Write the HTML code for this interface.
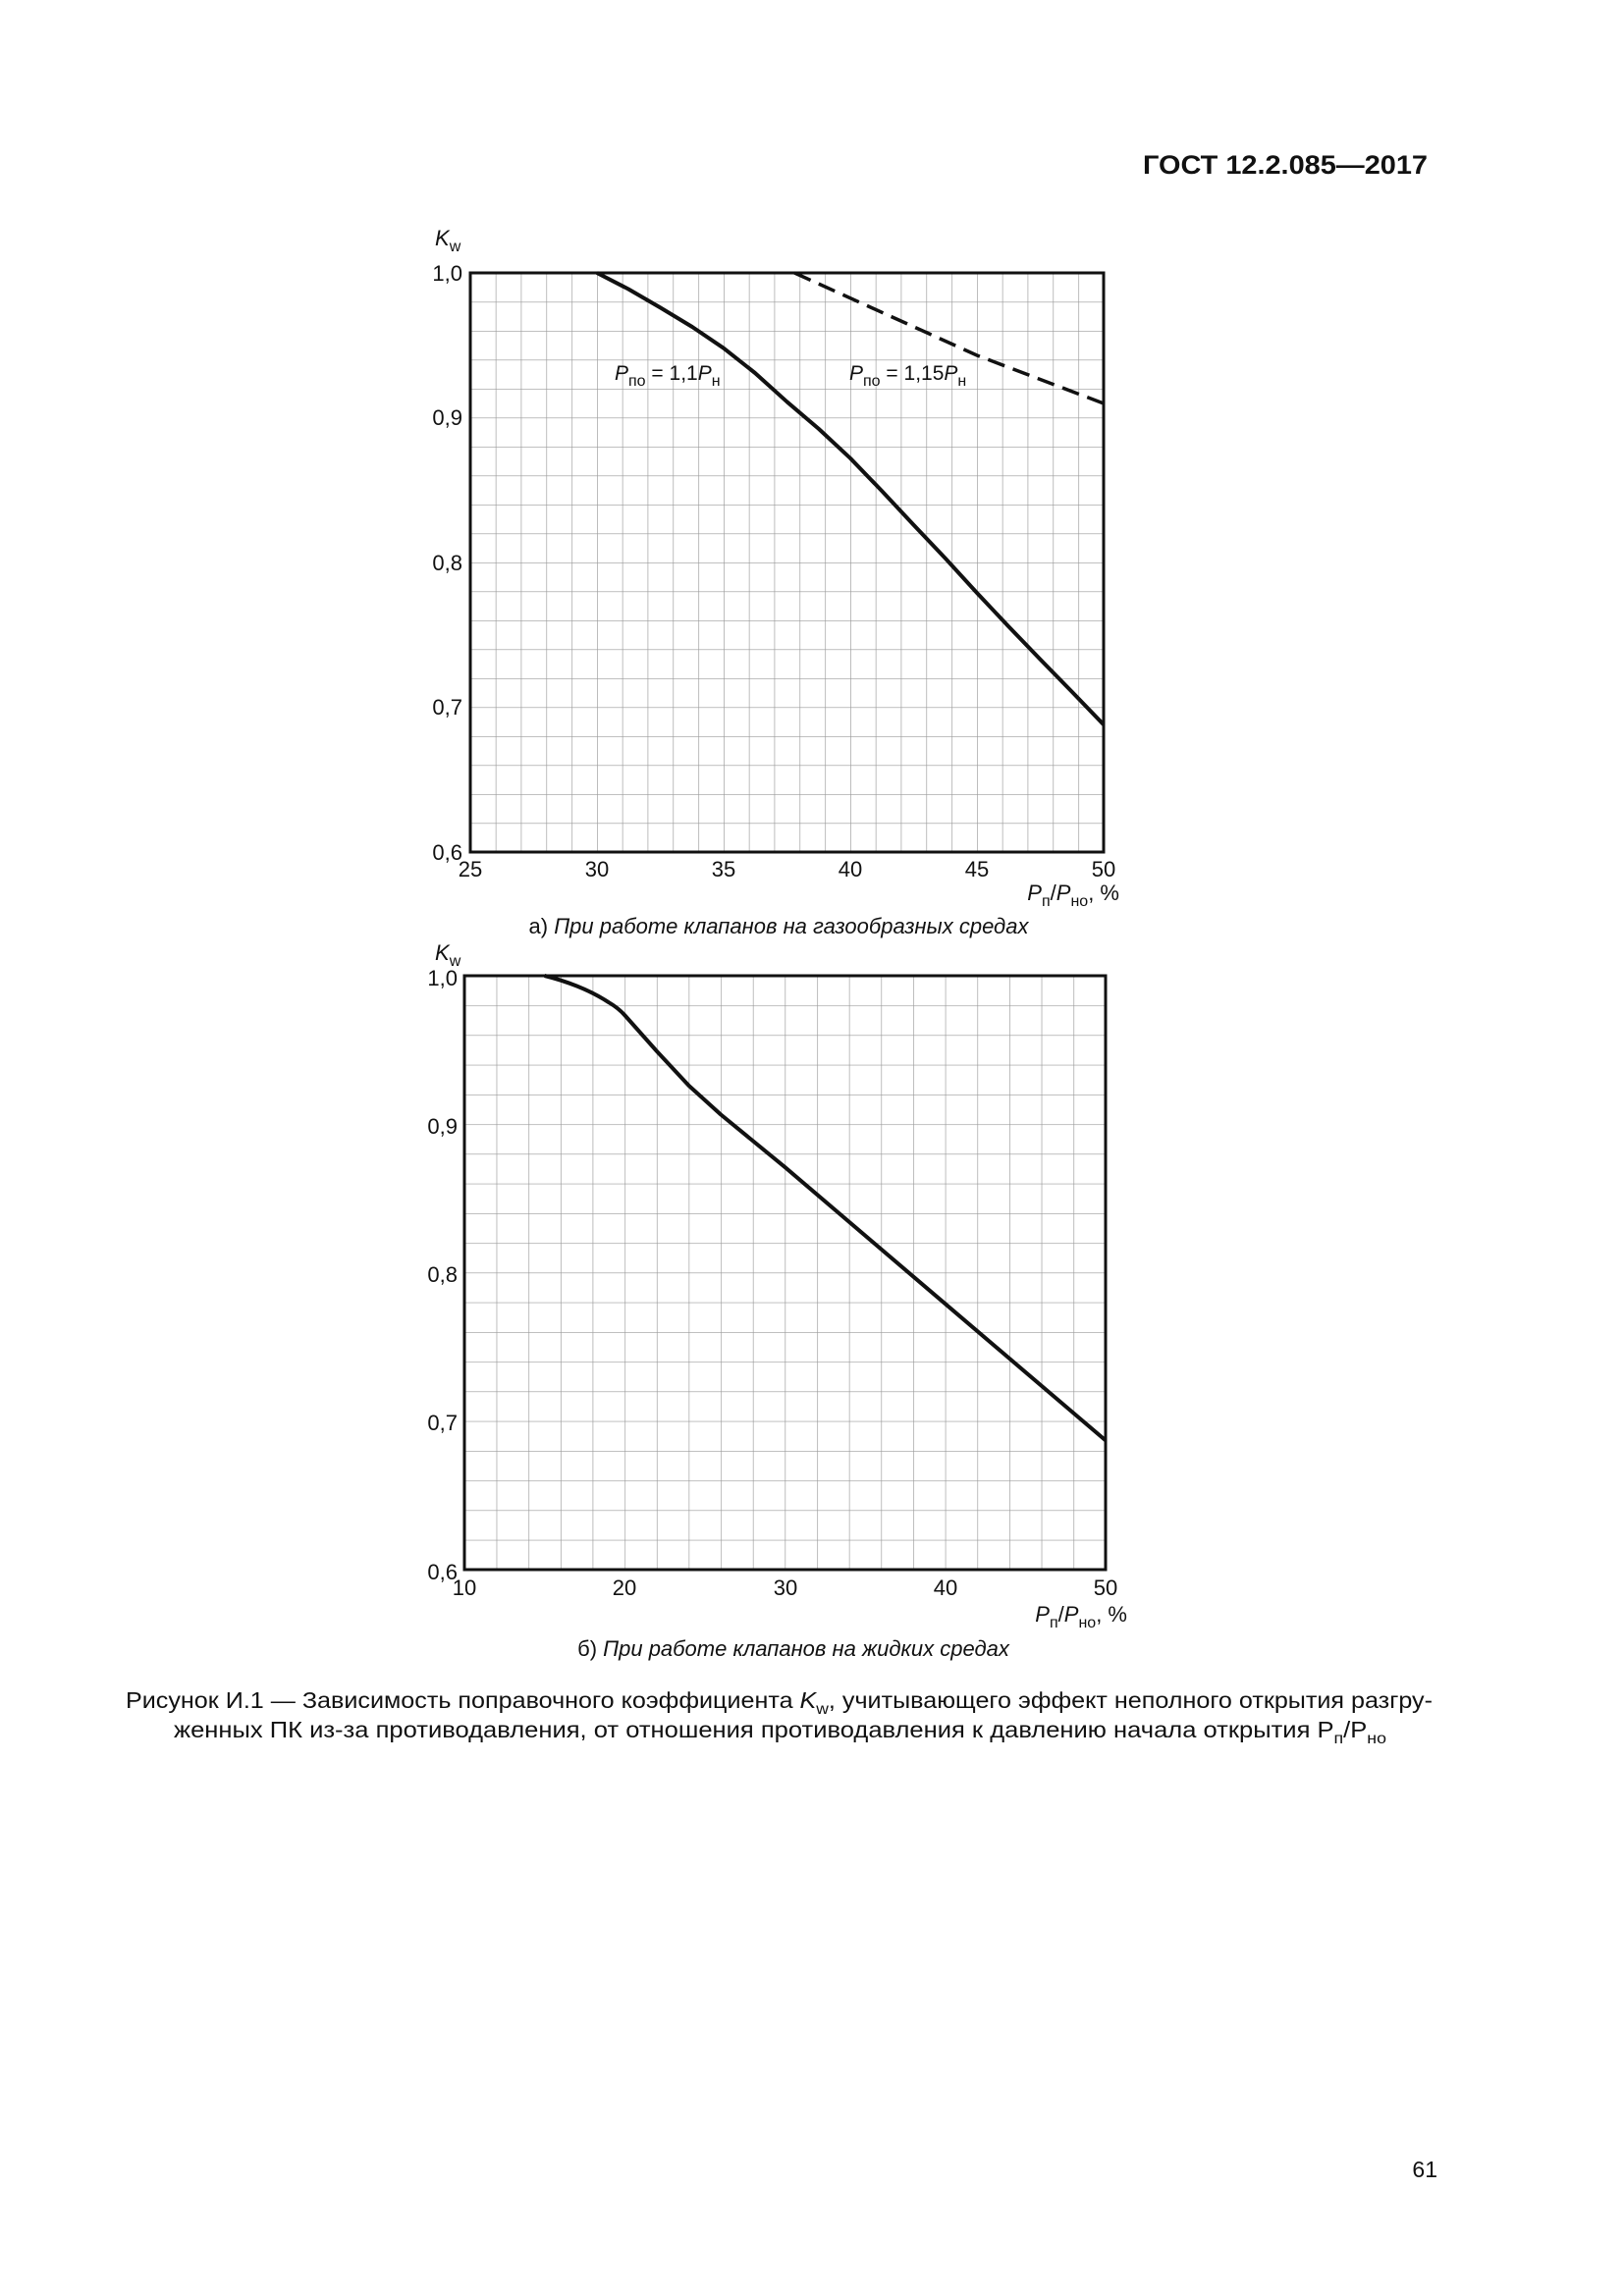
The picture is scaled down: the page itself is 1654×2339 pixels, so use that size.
<!DOCTYPE html>
<html><head><meta charset="utf-8"><style>
html,body{margin:0;padding:0;background:#fff}
svg{display:block}
text{font-family:"Liberation Sans",sans-serif;fill:#111}
</style></head><body>
<svg width="1654" height="2339" viewBox="0 0 1654 2339" xmlns="http://www.w3.org/2000/svg">
<defs>
<pattern id="ga" x="479" y="278" width="25.8" height="29.5" patternUnits="userSpaceOnUse">
<path d="M0 0V29.5M0 0H25.8" stroke="#9a9a9a" stroke-width="1.3" fill="none"/>
</pattern>
<pattern id="gb" x="473" y="994" width="32.65" height="30.25" patternUnits="userSpaceOnUse">
<path d="M0 0V30.25M0 0H32.65" stroke="#9a9a9a" stroke-width="1.3" fill="none"/>
</pattern>
</defs>
<text x="1454" y="177" font-size="27" font-weight="bold" text-anchor="end" textLength="290" lengthAdjust="spacingAndGlyphs">ГОСТ 12.2.085—2017</text>

<!-- Chart a -->
<rect x="479" y="278" width="645" height="590" fill="url(#ga)"/>
<rect x="479" y="278" width="645" height="590" fill="none" stroke="#111" stroke-width="3"/>
<polyline points="608,278 640,294.5 672.5,313.4 705,333 737,354.7 769,380 801.5,409.3 834,437 866,466.8 898,500 930.5,534.7 963,569 995,604 1027,638 1059.5,671.8 1092,705 1124,738.2" fill="none" stroke="#111" stroke-width="4" stroke-linejoin="round"/>
<path d="M809.2 278 L995 362 L1124 411" fill="none" stroke="#111" stroke-width="3.5" stroke-dasharray="18,9"/>
<text x="626" y="387" font-size="21"><tspan font-style="italic">P</tspan><tspan font-size="16" dy="6">по</tspan><tspan dy="-6"> = 1,1</tspan><tspan font-style="italic">P</tspan><tspan font-size="16" dy="6">н</tspan></text>
<text x="865" y="387" font-size="21"><tspan font-style="italic">P</tspan><tspan font-size="16" dy="6">по</tspan><tspan dy="-6"> = 1,15</tspan><tspan font-style="italic">P</tspan><tspan font-size="16" dy="6">н</tspan></text>
<g font-size="22" text-anchor="end">
<text x="471" y="286">1,0</text><text x="471" y="433">0,9</text><text x="471" y="581">0,8</text><text x="471" y="728">0,7</text><text x="471" y="876">0,6</text>
</g>
<text x="443" y="250" font-size="22" font-style="italic">K<tspan font-size="16" font-style="normal" dy="6">w</tspan></text>
<g font-size="22" text-anchor="middle">
<text x="479" y="893">25</text><text x="608" y="893">30</text><text x="737" y="893">35</text><text x="866" y="893">40</text><text x="995" y="893">45</text><text x="1124" y="893">50</text>
</g>
<text x="1140" y="917" font-size="22" text-anchor="end"><tspan font-style="italic">P</tspan><tspan font-size="16" dy="6">п</tspan><tspan dy="-6">/</tspan><tspan font-style="italic">P</tspan><tspan font-size="16" dy="6">но</tspan><tspan dy="-6">,  %</tspan></text>
<text x="793" y="951" font-size="22" text-anchor="middle">а) <tspan font-style="italic">При работе клапанов на газообразных средах</tspan></text>

<!-- Chart b -->
<rect x="473" y="994" width="653" height="605" fill="url(#gb)"/>
<rect x="473" y="994" width="653" height="605" fill="none" stroke="#111" stroke-width="3"/>
<path d="M554.6 994 C575 999 600 1008 620 1021.2 Q630 1027 637 1035 L669 1071 L701.6 1106 L734.2 1135.5 L799.5 1189.1 L962.8 1328.3 L1126 1467.4" fill="none" stroke="#111" stroke-width="4" stroke-linejoin="round"/>
<g font-size="22" text-anchor="end">
<text x="466" y="1004">1,0</text><text x="466" y="1155">0,9</text><text x="466" y="1306">0,8</text><text x="466" y="1457">0,7</text><text x="466" y="1609">0,6</text>
</g>
<text x="443" y="978" font-size="22" font-style="italic">K<tspan font-size="16" font-style="normal" dy="6">w</tspan></text>
<g font-size="22" text-anchor="middle">
<text x="473" y="1625">10</text><text x="636" y="1625">20</text><text x="800" y="1625">30</text><text x="963" y="1625">40</text><text x="1126" y="1625">50</text>
</g>
<text x="1148" y="1652" font-size="22" text-anchor="end"><tspan font-style="italic">P</tspan><tspan font-size="16" dy="6">п</tspan><tspan dy="-6">/</tspan><tspan font-style="italic">P</tspan><tspan font-size="16" dy="6">но</tspan><tspan dy="-6">,  %</tspan></text>
<text x="808" y="1687" font-size="22" text-anchor="middle">б) <tspan font-style="italic">При работе клапанов на жидких средах</tspan></text>

<text x="128" y="1740" font-size="23" textLength="1331" lengthAdjust="spacingAndGlyphs">Рисунок И.1 — Зависимость поправочного коэффициента <tspan font-style="italic">K</tspan><tspan font-size="16" dy="6">w</tspan><tspan dy="-6">, учитывающего эффект неполного открытия разгру-</tspan></text>
<text x="177" y="1770" font-size="23" textLength="1235" lengthAdjust="spacingAndGlyphs">женных ПК из-за противодавления, от отношения противодавления к давлению начала открытия Р<tspan font-size="16" dy="6">п</tspan><tspan dy="-6">/Р</tspan><tspan font-size="16" dy="6">но</tspan></text>

<text x="1464" y="2218" font-size="23" text-anchor="end">61</text>
</svg>
</body></html>
